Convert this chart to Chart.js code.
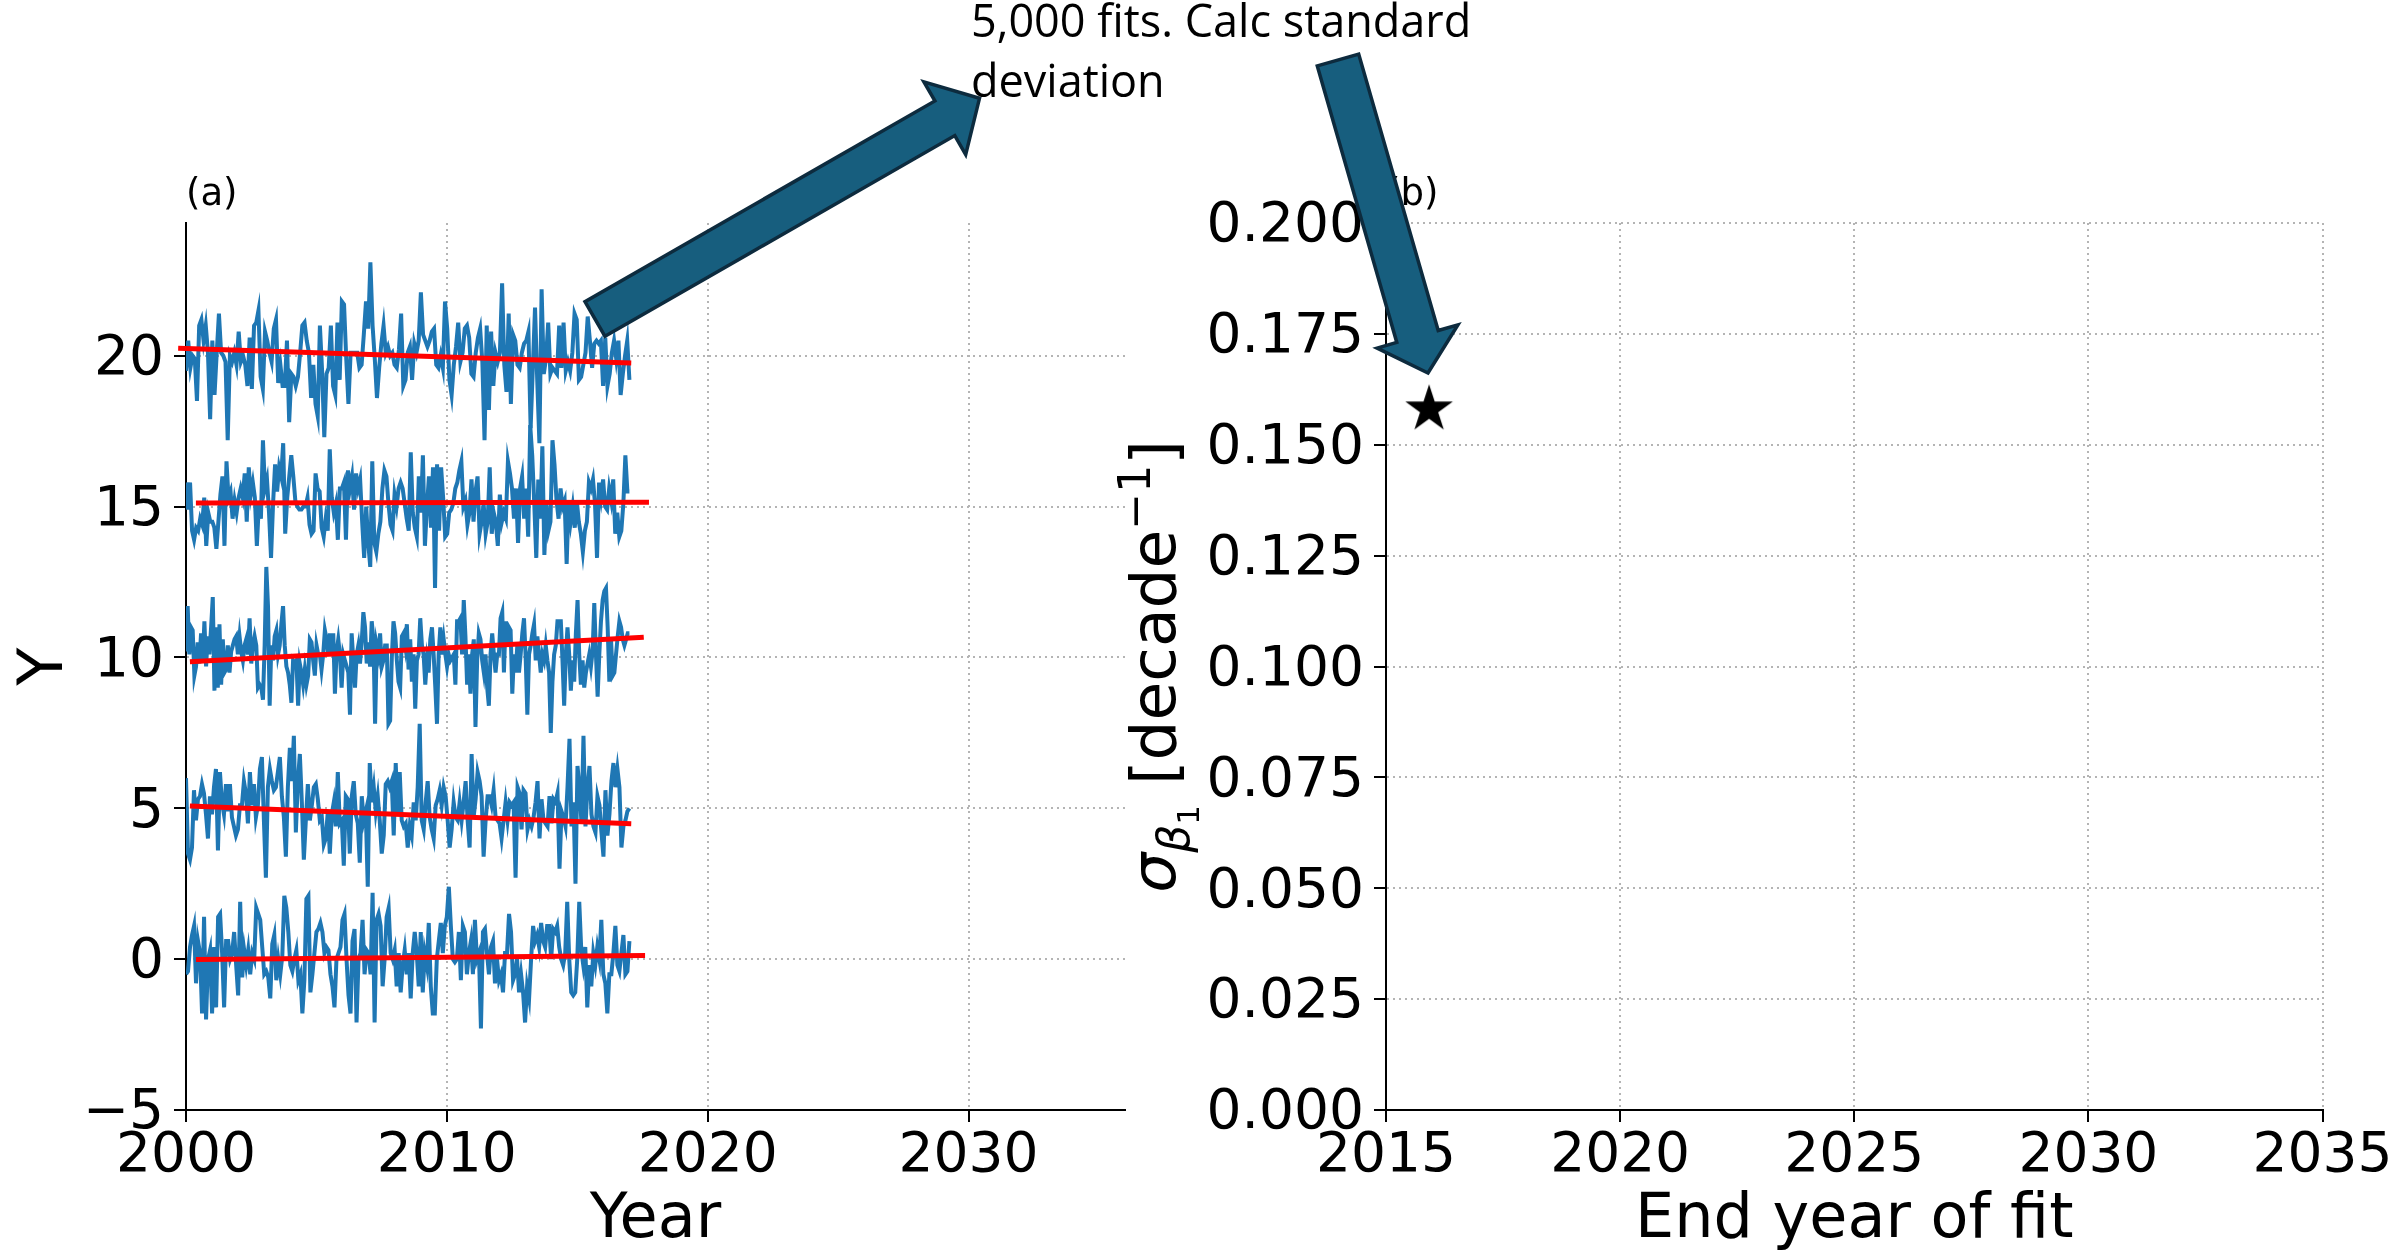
<!DOCTYPE html>
<html>
<head>
<meta charset="utf-8">
<script src="https://cdn.jsdelivr.net/npm/chart.js@4.4.1/dist/chart.umd.min.js"></script>
<style>
  html, body { margin: 0; padding: 0; background: #fff; }
  #page { position: relative; width: 2407px; height: 1253px; overflow: hidden; }
  #wrapA { position: absolute; left: 0; top: 0; width: 1140px; height: 1253px; }
  #wrapB { position: absolute; left: 1090px; top: 0; width: 1317px; height: 1253px; }
  #notes { position: absolute; left: 0; top: 0; pointer-events: none; }
</style>
</head>
<body>
<div id="page">
  <div id="wrapA"><canvas id="chartA"></canvas></div>
  <div id="wrapB"><canvas id="chartB"></canvas></div>
  <svg id="notes" width="2407" height="1253" xmlns="http://www.w3.org/2000/svg"></svg>
</div>
<script>
// ---------------------------------------------------------------
// Data
// ---------------------------------------------------------------
// panel (a): five noisy series, spread evenly from seriesStart to seriesEnd
const seriesStart = 2000;
const seriesEnd = 2017;

const series20 = [19.5,20.5,19.6,20.0,19.9,18.5,21.0,21.2,20.5,21.0,20.1,17.9,20.5,18.7,20.1,21.4,20.1,20.0,19.8,17.2,20.0,19.8,20.1,19.7,20.8,19.8,20.0,19.7,19.0,20.6,18.9,21.0,21.1,21.5,19.3,18.9,20.8,20.5,20.1,19.8,20.9,21.2,19.1,19.7,19.0,19.0,20.5,17.8,19.4,19.3,19.0,19.3,20.1,21.0,21.1,20.5,20.1,18.6,19.7,18.4,18.0,21.0,19.5,17.3,19.4,19.6,21.0,19.0,18.7,21.1,19.2,21.8,21.7,19.9,18.4,20.1,20.1,20.1,20.1,19.6,19.7,20.7,21.8,20.9,23.1,21.0,19.9,18.6,19.6,20.4,21.0,20.1,20.3,20.0,20.1,19.7,19.6,20.2,21.4,19.0,19.2,20.1,20.3,19.2,20.4,20.1,20.5,22.1,20.7,20.5,20.3,20.5,20.8,20.9,19.7,19.6,20.0,19.6,21.8,20.9,19.2,18.7,19.7,20.3,21.1,19.8,20.1,20.9,21.0,20.6,19.4,19.3,20.1,20.6,20.9,19.8,17.2,21.0,18.2,20.8,19.0,20.1,19.8,20.1,22.4,19.7,18.8,21.4,18.4,20.7,20.5,19.7,19.6,20.1,20.4,20.5,20.8,17.6,19.6,21.6,19.2,17.1,22.2,19.4,19.9,21.1,19.4,19.6,19.5,19.4,21.0,19.6,21.1,19.5,19.8,19.5,20.1,21.4,21.2,19.2,19.3,19.7,20.1,21.3,20.5,19.6,20.4,20.5,20.4,20.5,19.0,20.6,19.0,19.4,20.1,20.5,19.9,20.5,18.7,19.4,20.0,20.5,19.2];
const series15 = [15.8,14.9,15.8,14.2,13.9,14.3,14.2,14.6,14.4,15.3,13.7,14.8,14.5,14.5,14.3,13.6,14.5,15.4,16.0,13.7,16.5,15.3,15.5,14.6,15.2,14.8,15.3,15.6,15.3,16.1,14.5,16.3,15.4,15.8,15.3,13.7,15.1,14.6,17.2,15.6,15.9,14.8,13.3,15.1,16.4,15.5,16.3,16.0,17.1,14.1,15.3,16.0,16.7,16.0,15.2,15.0,14.9,14.9,15.0,15.0,15.3,14.4,14.1,14.2,16.1,15.6,15.5,14.3,14.0,14.6,14.2,16.9,15.3,14.8,15.1,13.9,15.6,15.6,15.8,13.9,16.2,15.6,16.0,14.9,16.1,15.6,15.9,14.5,13.3,15.0,13.8,13.0,16.5,13.8,13.5,14.1,14.5,15.6,16.2,16.0,15.1,14.4,14.2,15.4,15.0,15.6,15.8,15.6,15.1,14.6,14.2,16.8,14.8,14.3,14.0,16.0,14.8,16.7,13.7,15.0,16.0,14.3,16.3,12.3,16.4,14.2,16.3,15.3,14.0,14.1,14.8,14.9,15.1,15.6,15.8,16.2,16.5,15.0,15.2,14.4,14.8,15.9,14.5,15.5,16.0,14.1,14.5,15.1,14.1,14.5,16.3,14.1,14.8,14.5,13.7,15.4,14.5,14.8,14.6,16.5,16.1,15.6,14.6,15.6,13.8,15.6,16.0,14.6,15.6,14.0,17.7,16.7,15.1,13.3,15.9,14.6,17.0,13.4,15.1,14.2,14.5,17.2,16.4,15.2,14.6,15.6,15.0,15.2,13.1,15.2,14.5,15.0,14.3,15.2,14.5,14.1,13.5,14.2,14.5,15.8,15.6,15.9,15.1,13.3,15.8,15.3,15.9,15.0,14.9,15.6,15.2,15.9,14.1,14.8,14.0,14.2,15.1,16.7,15.5,15.5];
const series10 = [10.2,11.7,10.1,11.0,10.9,9.4,9.7,10.5,9.8,10.8,9.9,11.2,9.7,10.7,10.1,11.0,12.0,8.9,11.0,9.0,11.1,9.1,10.6,9.5,9.6,10.4,9.5,10.2,10.4,10.6,10.7,10.1,10.7,10.2,9.9,10.4,10.6,10.1,11.3,9.8,10.4,10.7,10.4,9.0,9.1,9.0,8.6,10.4,13.0,11.7,8.4,10.4,9.9,10.7,10.9,10.1,10.4,11.1,11.7,10.4,9.7,9.5,9.1,8.5,9.9,9.8,9.9,8.4,9.8,9.5,9.1,9.6,9.1,9.4,10.6,10.5,9.9,9.4,10.4,10.1,10.1,9.6,10.1,10.9,10.6,10.1,10.8,10.1,10.8,8.8,10.2,10.6,10.1,9.0,10.1,9.9,9.7,9.5,8.1,10.8,9.9,9.0,10.1,10.4,9.8,10.5,11.5,11.0,9.8,10.5,9.7,11.2,10.6,7.8,10.4,10.1,10.8,9.7,9.9,10.4,10.4,7.8,7.9,10.0,11.2,10.8,9.9,9.2,9.0,10.7,10.8,10.4,11.1,9.6,10.6,9.2,10.1,8.3,9.9,10.1,11.3,10.4,10.1,9.1,9.9,9.5,10.6,11.0,10.1,9.0,7.8,10.1,11.0,10.1,10.6,10.1,9.7,10.1,9.9,10.0,10.1,9.1,11.2,11.2,11.3,10.1,11.9,10.7,9.1,10.1,8.8,10.1,10.6,7.7,9.9,10.8,10.6,9.9,9.5,10.1,9.0,8.4,10.1,10.8,10.1,9.5,10.1,10.1,11.3,11.5,9.5,11.2,10.4,11.0,10.9,8.8,10.1,9.5,10.4,9.5,10.1,10.8,11.3,10.0,8.1,10.1,10.4,10.8,11.1,9.9,10.7,10.1,9.5,10.1,9.9,10.4,9.9,9.5,7.5,9.2,10.1,10.4,11.2,11.2,11.2,9.9,8.4,10.1,11.0,10.1,8.9,9.9,9.2,10.8,11.9,10.1,9.1,9.9,9.0,9.5,9.8,10.1,9.7,10.2,11.8,10.1,8.7,10.1,11.2,11.9,12.2,12.3,11.0,9.2,10.6,9.4,9.5,10.1,10.7,11.2,11.0,10.6,10.4,10.6,10.8,10.8];
const series5 = [6.0,3.5,3.3,3.7,5.6,4.6,5.3,5.4,5.8,5.5,4.8,4.0,5.4,4.8,5.7,6.3,3.6,6.2,5.2,4.8,5.8,4.9,5.8,4.7,4.4,4.1,4.3,5.1,5.1,5.9,5.5,4.5,6.2,5.1,5.8,4.7,5.1,6.3,6.7,4.6,2.7,5.7,6.3,5.9,5.6,5.7,6.2,6.7,5.4,4.7,3.4,5.7,7.0,5.9,7.4,4.2,5.9,6.8,5.2,3.3,4.6,5.8,4.6,5.1,5.7,5.8,5.3,4.6,4.7,3.8,4.0,4.9,3.5,4.8,5.2,4.4,6.2,4.5,4.6,3.1,5.4,5.3,3.5,5.4,5.9,4.8,4.5,3.2,5.4,4.6,4.9,2.4,6.5,5.2,5.7,4.9,5.4,4.6,3.5,4.1,5.8,5.9,5.7,5.9,4.1,6.5,4.8,6.2,4.6,4.4,4.5,3.7,4.4,4.1,5.2,4.6,5.7,7.8,4.6,4.3,5.2,5.9,4.7,4.3,4.0,5.1,5.3,5.6,5.1,5.7,5.4,4.6,3.7,4.3,5.2,4.7,4.6,5.2,4.6,5.2,5.9,4.6,3.7,6.8,4.7,5.3,6.2,5.9,5.4,3.4,4.6,5.4,5.4,5.1,5.6,4.7,4.6,4.5,4.0,4.6,5.2,4.6,5.2,5.1,5.2,2.7,5.7,5.5,4.3,5.6,5.5,4.3,4.6,4.4,4.7,5.2,5.9,4.0,5.3,4.6,4.5,4.4,5.4,4.5,5.3,5.2,5.5,3.0,4.9,4.7,4.4,5.7,7.3,4.4,5.2,2.5,6.4,5.7,4.5,7.4,4.4,5.7,6.4,4.8,4.4,4.2,5.4,5.1,4.2,3.4,5.6,4.1,4.8,5.9,6.5,5.7,6.3,5.7,3.7,4.4,4.6,4.9,5.0];
const series0 = [-0.5,-0.4,0.4,0.8,1.1,-0.8,0.6,0.2,-1.8,1.4,-2.0,0.0,0.3,-1.8,0.4,-1.6,1.4,1.5,0.2,-1.6,0.6,0.6,0.0,0.2,0.9,-0.2,-1.2,1.9,-0.6,0.3,-0.2,0.3,-0.5,0.2,0.0,1.7,1.5,1.3,0.4,-0.5,-0.4,-0.6,-1.3,0.5,0.8,-0.7,0.0,-0.5,0.1,2.1,1.7,0.9,-0.2,-0.4,0.0,0.3,-0.7,-0.5,-1.8,-0.7,2.0,2.1,-1.1,-0.5,0.2,0.9,1.0,1.2,0.9,0.2,0.4,0.3,-0.5,-0.9,-1.6,0.0,0.2,0.4,1.3,1.5,0.0,-1.2,-1.8,0.6,1.0,-2.1,0.0,0.2,1.3,-0.5,0.3,0.2,-0.5,2.2,-2.1,1.3,1.5,1.1,-0.9,0.0,1.4,1.7,0.2,0.0,0.3,-0.9,0.2,-1.1,-0.2,0.3,-0.5,0.2,-1.3,0.2,0.9,0.2,-0.9,0.9,-1.1,0.2,-0.2,1.2,-0.9,-1.8,-1.8,0.0,0.6,1.2,0.2,1.1,1.4,2.4,1.1,0.0,-0.1,0.0,0.9,-0.7,1.1,0.9,-0.5,0.2,0.6,-0.5,1.3,0.0,0.2,-2.3,0.9,1.0,0.2,-0.5,0.4,0.6,-0.8,0.0,-0.7,-0.5,-1.1,0.2,0.2,1.5,0.9,-0.7,-0.5,0.0,-1.1,-0.5,-1.1,-2.1,-0.9,-1.3,0.0,1.1,0.6,0.8,0.4,1.2,0.6,0.4,1.1,1.1,0.0,1.0,0.9,1.1,0.4,0.0,-0.2,0.2,1.9,0.0,-1.1,-1.2,-1.1,0.0,1.9,0.3,-0.2,0.4,-1.6,-0.2,-0.9,0.2,-0.2,0.4,0.0,1.3,-0.5,-0.8,-1.8,-0.5,-0.5,0.2,1.1,-0.2,-0.4,0.2,0.8,-0.5,-0.4,0.6];

// red fitted lines: [start year, start value, end year, end value]
const fit20 = [1999.7, 20.25, 2017.07, 19.76];
const fit15 = [2000.38, 15.12, 2017.75, 15.14];
const fit10 = [2000.15, 9.86, 2017.55, 10.67];
const fit5 = [2000.15, 5.08, 2017.07, 4.49];
const fit0 = [2000.38, -0.01, 2017.6, 0.12];

const yTicksA = [-5, 0, 5, 10, 15, 20];
const xTicksA = [2000, 2010, 2020, 2030];

// panel (b): one star
const endYears = [2015.92];
const sigmaValues = [0.158];

// ---------------------------------------------------------------
// Shared styling
// ---------------------------------------------------------------
const FONT = "'DejaVu Sans', sans-serif";
const BLUE = '#1f77b4';
const RED = '#ff0000';

function gridOpts() {
    return { color: '#b4b4b4', lineWidth: 2, tickColor: '#000', tickLength: 12, tickWidth: 2 };
}
function borderOpts() {
    return { color: '#000', width: 2, dash: [2, 4] };  // dash is used by the grid lines
}
function tickOpts(extra) {
    return Object.assign({
        color: '#000',
        font: { family: FONT, size: 55 },
        autoSkip: false,
        maxRotation: 0,
        minRotation: 0,
        includeBounds: false
    }, extra);
}
const minusFmt = v => (v < 0 ? '\u2212' + Math.abs(v) : String(v));

// "(a)" / "(b)" above the plot
const panelTag = {
    id: 'panelTag',
    afterDraw(chart, args, opts) {
        const ctx = chart.ctx, a = chart.chartArea;
        ctx.save();
        ctx.font = "37px " + FONT;
        ctx.fillStyle = '#000';
        ctx.textAlign = 'left';
        ctx.textBaseline = 'alphabetic';
        ctx.fillText(opts.text, a.left, a.top - 18);
        ctx.restore();
    }
};

// y label of (b) with sub/superscripts
const sigmaLabel = {
    id: 'sigmaLabel',
    afterDraw(chart, args, opts) {
        if (!opts.show) return;
        const ctx = chart.ctx, a = chart.chartArea;
        const parts = [
            { t: '\u03c3', size: 63, style: 'italic ', dy: 0 },
            { t: '\u03b2', size: 44, style: 'italic ', dy: 14 },
            { t: '1', size: 31, style: '', dy: 24 },
            { t: ' [decade', size: 63, style: '', dy: 0 },
            { t: '\u22121', size: 44, style: '', dy: -25 },
            { t: ']', size: 63, style: '', dy: 0 }
        ];
        ctx.save();
        let total = 0;
        parts.forEach(p => {
            ctx.font = p.style + p.size + "px " + FONT;
            p.w = ctx.measureText(p.t).width;
            total += p.w;
        });
        ctx.translate(opts.x, (a.top + a.bottom) / 2);
        ctx.rotate(-Math.PI / 2);
        ctx.fillStyle = '#000';
        ctx.textBaseline = 'alphabetic';
        ctx.textAlign = 'left';
        let x = -total / 2;
        parts.forEach(p => {
            ctx.font = p.style + p.size + "px " + FONT;
            ctx.fillText(p.t, x, p.dy);
            x += p.w;
        });
        ctx.restore();
    }
};

// ---------------------------------------------------------------
// Panel (a)
// ---------------------------------------------------------------
function toPoints(values) {
    const step = (seriesEnd - seriesStart) / (values.length - 1);
    return values.map((v, i) => ({ x: seriesStart + i * step, y: v }));
}
function fitLine(f) {
    return [{ x: f[0], y: f[1] }, { x: f[2], y: f[3] }];
}

const blueSets = [series20, series15, series10, series5, series0].map(s => ({
    data: toPoints(s),
    borderColor: BLUE,
    borderWidth: 4,
    pointRadius: 0,
    tension: 0,
    order: 1
}));
const redSets = [fit20, fit15, fit10, fit5, fit0].map(f => ({
    data: fitLine(f),
    borderColor: RED,
    borderWidth: 5,
    pointRadius: 0,
    clip: false,
    order: 0
}));

new Chart(document.getElementById('chartA'), {
    type: 'line',
    data: { datasets: redSets.concat(blueSets) },
    options: {
        responsive: true,
        maintainAspectRatio: false,
        animation: false,
        layout: { padding: { left: 0, right: 15, top: 223, bottom: 0 } },
        plugins: {
            legend: { display: false },
            tooltip: { enabled: false },
            panelTag: { text: '(a)' }
        },
        scales: {
            x: {
                type: 'linear',
                min: 2000,
                max: 2036,
                afterFit: s => { s.height = 143; },
                afterBuildTicks: s => { s.ticks = xTicksA.map(v => ({ value: v })); },
                grid: gridOpts(),
                border: borderOpts(),
                ticks: tickOpts({ padding: 2, callback: v => String(v) }),
                title: { display: true, text: 'Year', color: '#000',
                         font: { family: FONT, size: 62 }, padding: { top: 0, bottom: -5 } }
            },
            y: {
                type: 'linear',
                min: -5,
                max: 24.4,
                afterFit: s => { s.width = 186; },
                afterBuildTicks: s => { s.ticks = yTicksA.map(v => ({ value: v })); },
                grid: gridOpts(),
                border: borderOpts(),
                ticks: tickOpts({ padding: 10, labelOffset: 4, callback: minusFmt }),
                title: { display: true, text: 'Y', color: '#000',
                         font: { family: FONT, size: 62 }, padding: { top: 9, bottom: 0 } }
            }
        }
    },
    plugins: [panelTag]
});

// ---------------------------------------------------------------
// Panel (b)
// ---------------------------------------------------------------
function makeStar(r) {
    const c = document.createElement('canvas');
    const size = Math.ceil(r * 2 + 4);
    c.width = size; c.height = size;
    const g = c.getContext('2d');
    const cx = size / 2, cy = size / 2, inner = r * 0.382;
    g.beginPath();
    for (let i = 0; i < 10; i++) {
        const rad = i % 2 === 0 ? r : inner;
        const ang = -Math.PI / 2 + i * Math.PI / 5;
        const px = cx + rad * Math.cos(ang), py = cy + rad * Math.sin(ang);
        if (i === 0) g.moveTo(px, py); else g.lineTo(px, py);
    }
    g.closePath();
    g.fillStyle = '#000';
    g.fill();
    return c;
}

new Chart(document.getElementById('chartB'), {
    type: 'scatter',
    data: {
        datasets: [{
            data: endYears.map((x, i) => ({ x: x, y: sigmaValues[i] })),
            pointStyle: makeStar(25),
            pointRadius: 25,
            clip: false
        }]
    },
    options: {
        responsive: true,
        maintainAspectRatio: false,
        animation: false,
        layout: { padding: { left: 0, right: 84.5, top: 223, bottom: 0 } },
        plugins: {
            legend: { display: false },
            tooltip: { enabled: false },
            panelTag: { text: '(b)' },
            sigmaLabel: { show: true, x: 85 }
        },
        scales: {
            x: {
                type: 'linear',
                min: 2015,
                max: 2035,
                afterFit: s => { s.height = 143; },
                grid: gridOpts(),
                border: borderOpts(),
                ticks: tickOpts({ stepSize: 5, padding: 2, callback: v => String(v) }),
                title: { display: true, text: 'End year of fit', color: '#000',
                         font: { family: FONT, size: 62 }, padding: { top: 0, bottom: -5 } }
            },
            y: {
                type: 'linear',
                min: 0,
                max: 0.2,
                afterFit: s => { s.width = 296; },
                grid: gridOpts(),
                border: borderOpts(),
                ticks: tickOpts({ stepSize: 0.025, padding: 10, labelOffset: 4,
                                  callback: v => Number(v).toFixed(3) })
            }
        }
    },
    plugins: [panelTag, sigmaLabel]
});

// ---------------------------------------------------------------
// Callout arrows and note (drawn over both panels)
// ---------------------------------------------------------------
function arrowPoints(tail, tip, shaftW, headW, headL) {
    const dx = tip[0] - tail[0], dy = tip[1] - tail[1];
    const len = Math.hypot(dx, dy);
    const ux = dx / len, uy = dy / len, px = -uy, py = ux;
    const bx = tip[0] - ux * headL, by = tip[1] - uy * headL;
    const s = shaftW / 2, h = headW / 2;
    return [
        [tail[0] + px * s, tail[1] + py * s],
        [bx + px * s, by + py * s],
        [bx + px * h, by + py * h],
        tip,
        [bx - px * h, by - py * h],
        [bx - px * s, by - py * s],
        [tail[0] - px * s, tail[1] - py * s]
    ];
}

const svg = document.getElementById('notes');
const NS = 'http://www.w3.org/2000/svg';
[
    arrowPoints([595, 319], [979.5, 98.3], 40, 84, 40),
    arrowPoints([1338, 60], [1428, 373], 43, 84, 38)
].forEach(pts => {
    const poly = document.createElementNS(NS, 'polygon');
    poly.setAttribute('points', pts.map(p => p[0].toFixed(1) + ',' + p[1].toFixed(1)).join(' '));
    poly.setAttribute('fill', '#175e7e');
    poly.setAttribute('stroke', '#0d2b3e');
    poly.setAttribute('stroke-width', '3.5');
    poly.setAttribute('stroke-linejoin', 'miter');
    svg.appendChild(poly);
});

[['5,000 fits. Calc standard', 37], ['deviation', 97]].forEach(([txt, y]) => {
    const t = document.createElementNS(NS, 'text');
    t.setAttribute('x', 971);
    t.setAttribute('y', y);
    t.setAttribute('font-family', "'Open Sans', sans-serif");
    t.setAttribute('font-size', '45');
    t.setAttribute('fill', '#000');
    t.textContent = txt;
    svg.appendChild(t);
});
</script>
</body>
</html>
